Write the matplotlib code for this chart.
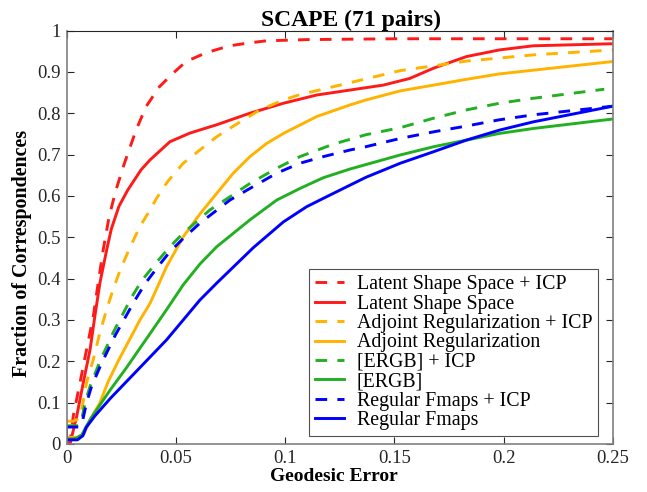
import numpy as np
import matplotlib
matplotlib.use('Agg')
import matplotlib.pyplot as plt

plt.rcParams['font.family'] = 'Liberation Serif'

# curves: geodesic error -> fraction of correspondences
lss_icp_x = [0.0, 0.0016, 0.0031, 0.0062, 0.0092, 0.0123, 0.0145, 0.0168, 0.0195, 0.0226, 0.0265, 0.0318,
             0.0364, 0.0425, 0.0486, 0.0547, 0.0638, 0.0745, 0.0836, 0.0913, 0.11, 0.15, 0.2, 0.25]
lss_icp_y = [0.0, 0.004, 0.068, 0.149, 0.229, 0.31, 0.39, 0.47, 0.55, 0.614, 0.679, 0.759,
             0.816, 0.864, 0.896, 0.925, 0.946, 0.963, 0.970, 0.975, 0.978, 0.98, 0.98, 0.98]

lss_x = [0.0, 0.0016, 0.0047, 0.0077, 0.0108, 0.013, 0.0153, 0.0184, 0.0205, 0.024, 0.028, 0.0341, 0.0382,
         0.044, 0.0473, 0.0565, 0.0687, 0.0839, 0.0992, 0.1145, 0.1297, 0.145, 0.157, 0.168, 0.183, 0.198,
         0.2135, 0.25]
lss_y = [0.0, 0.0, 0.068, 0.149, 0.229, 0.31, 0.39, 0.47, 0.52, 0.575, 0.614, 0.663, 0.687,
         0.715, 0.731, 0.752, 0.772, 0.80, 0.824, 0.844, 0.856, 0.868, 0.884, 0.909, 0.937, 0.953,
         0.963, 0.968]

adj_icp_x = [0.0, 0.003, 0.005, 0.007, 0.0092, 0.0123, 0.0153, 0.0184, 0.0214, 0.0245, 0.029, 0.0335,
             0.0382, 0.0413, 0.0463, 0.0534, 0.061, 0.0687, 0.0794, 0.0885, 0.0992, 0.1068, 0.122,
             0.1527, 0.183, 0.2135, 0.25]
adj_icp_y = [0.055, 0.055, 0.06, 0.084, 0.149, 0.205, 0.27, 0.326, 0.375, 0.42, 0.475, 0.525,
             0.566, 0.595, 0.635, 0.679, 0.711, 0.743, 0.779, 0.808, 0.832, 0.845, 0.864,
             0.903, 0.926, 0.941, 0.953]

adj_x = [0.0, 0.005, 0.008, 0.011, 0.0153, 0.019, 0.0236, 0.0336, 0.0382, 0.0458, 0.0534, 0.061, 0.0687,
         0.0763, 0.0839, 0.0916, 0.0992, 0.1145, 0.1297, 0.137, 0.1527, 0.168, 0.183, 0.198, 0.2135, 0.25]
adj_y = [0.016, 0.016, 0.025, 0.06, 0.1, 0.15, 0.2, 0.3, 0.34, 0.429, 0.501, 0.556, 0.606,
         0.655, 0.695, 0.727, 0.751, 0.792, 0.82, 0.832, 0.854, 0.868, 0.882, 0.895, 0.904, 0.925]

ergb_icp_x = [0.0, 0.0055, 0.007, 0.0085, 0.0108, 0.0153, 0.0214, 0.0298, 0.0344, 0.0413, 0.0473,
              0.0534, 0.0596, 0.0656, 0.0748, 0.0839, 0.0962, 0.1068, 0.122, 0.137, 0.1527, 0.168,
              0.183, 0.198, 0.2135, 0.246]
ergb_icp_y = [0.044, 0.044, 0.06, 0.10, 0.14, 0.2, 0.27, 0.355, 0.395, 0.44, 0.477,
              0.51, 0.538, 0.566, 0.598, 0.63, 0.667, 0.695, 0.725, 0.748, 0.765, 0.788,
              0.808, 0.824, 0.836, 0.858]

ergb_x = [0.0, 0.004, 0.007, 0.0092, 0.0115, 0.0199, 0.0275, 0.036, 0.0458, 0.0534, 0.061, 0.0687,
          0.0839, 0.0962, 0.1068, 0.1175, 0.1297, 0.1527, 0.168, 0.183, 0.198, 0.2135, 0.25]
ergb_y = [0.012, 0.013, 0.022, 0.044, 0.065, 0.13, 0.185, 0.25, 0.325, 0.385, 0.435, 0.477,
          0.542, 0.59, 0.618, 0.644, 0.665, 0.699, 0.719, 0.735, 0.751, 0.763, 0.786]

fm_icp_x = [0.0, 0.006, 0.0075, 0.0092, 0.0115, 0.016, 0.0225, 0.031, 0.036, 0.042, 0.0473, 0.0534,
            0.061, 0.0748, 0.0839, 0.0962, 0.1068, 0.1175, 0.1297, 0.137, 0.1527, 0.168, 0.183, 0.198,
            0.2135, 0.25]
fm_icp_y = [0.041, 0.041, 0.06, 0.1, 0.14, 0.195, 0.265, 0.345, 0.388, 0.43, 0.465, 0.497,
            0.534, 0.59, 0.618, 0.655, 0.679, 0.695, 0.711, 0.719, 0.739, 0.755, 0.769, 0.784,
            0.796, 0.817]

fm_x = [0.0, 0.0, 0.005, 0.0075, 0.009, 0.013, 0.02, 0.03, 0.04, 0.0458, 0.0534, 0.061, 0.0687,
        0.0855, 0.0992, 0.1099, 0.119, 0.1297, 0.137, 0.1527, 0.168, 0.183, 0.198, 0.2135, 0.25]
fm_y = [0.04, 0.01, 0.01, 0.02, 0.04, 0.068, 0.11, 0.165, 0.22, 0.252, 0.30, 0.348, 0.389,
        0.475, 0.537, 0.574, 0.598, 0.626, 0.645, 0.679, 0.707, 0.735, 0.759, 0.779, 0.817]

red = '#ff1a1a'
orange = '#ffb300'
green = '#22b022'
blue = '#0000ff'

fig = plt.figure(figsize=(6.47, 4.92), dpi=100)
ax = fig.add_axes([0.1028, 0.0976, 0.8446, 0.8404])

dash = (0, (4, 3.5))
ax.plot(lss_icp_x, lss_icp_y, color=red, lw=2.1, linestyle=dash, label='Latent Shape Space + ICP')
ax.plot(lss_x, lss_y, color=red, lw=2.1, label='Latent Shape Space')
ax.plot(adj_icp_x, adj_icp_y, color=orange, lw=2.1, linestyle=dash, label='Adjoint Regularization + ICP')
ax.plot(adj_x, adj_y, color=orange, lw=2.1, label='Adjoint Regularization')
ax.plot(ergb_icp_x, ergb_icp_y, color=green, lw=2.1, linestyle=dash, label='[ERGB] + ICP')
ax.plot(ergb_x, ergb_y, color=green, lw=2.1, label='[ERGB]')
ax.plot(fm_icp_x, fm_icp_y, color=blue, lw=2.1, linestyle=dash, label='Regular Fmaps + ICP')
ax.plot(fm_x, fm_y, color=blue, lw=2.1, label='Regular Fmaps')

ax.set_xlim(0, 0.25)
ax.set_ylim(0, 1)
ax.set_xticks([0, 0.05, 0.1, 0.15, 0.2, 0.25])
ax.set_xticklabels(['0', '0.05', '0.1', '0.15', '0.2', '0.25'])
ax.set_yticks(np.arange(0, 1.01, 0.1))
ax.set_yticklabels(['0', '0.1', '0.2', '0.3', '0.4', '0.5', '0.6', '0.7', '0.8', '0.9', '1'])
ax.tick_params(direction='in', length=5, top=True, right=True, labelsize=13.5,
               colors='#262626', pad=4)
for s in ax.spines.values():
    s.set_color('#808080')
    s.set_linewidth(1.2)
ax.spines['top'].set_color('#262626')
ax.spines['top'].set_linewidth(0.8)

ax.set_title('SCAPE (71 pairs)', fontsize=17, fontweight='bold', pad=3, x=0.52)
ax.set_xlabel('Geodesic Error', fontsize=14, fontweight='bold', labelpad=1)
ax.set_ylabel('Fraction of Correspondences', fontsize=14.4, fontweight='bold', labelpad=4)
ax.xaxis.label.set_x(0.49)
ax.yaxis.label.set_y(0.462)

leg = ax.legend(loc='lower right', bbox_to_anchor=(0.9726, 0.0193), fontsize=14.3,
                frameon=True, fancybox=False, handlelength=1.45, handletextpad=0.65,
                labelspacing=0.02, borderpad=0.3, borderaxespad=0)
leg.get_frame().set_edgecolor('#262626')
leg.get_frame().set_linewidth(0.8)

fig.savefig('out.png', dpi=100)
